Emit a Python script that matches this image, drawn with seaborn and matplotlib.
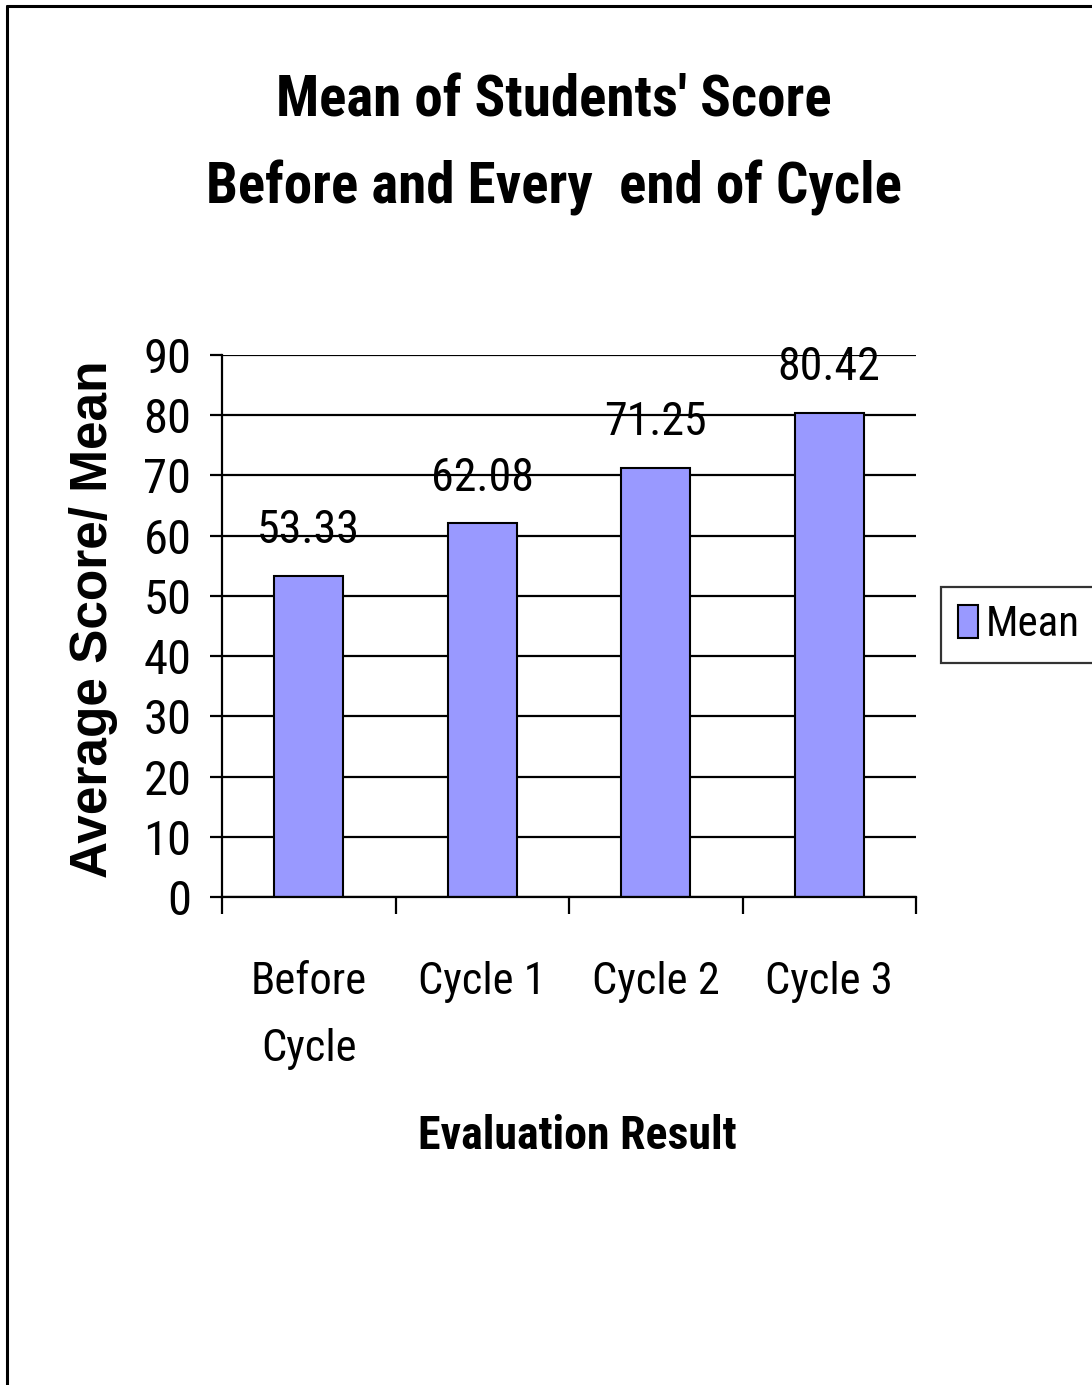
import pandas as pd
import matplotlib.pyplot as plt
import seaborn as sns
from matplotlib.lines import Line2D

# --- Data ---
categories = ['Before\nCycle', 'Cycle 1', 'Cycle 2', 'Cycle 3']
mean_scores = [53.33, 62.08, 71.25, 80.42]
y_ticks = [0, 10, 20, 30, 40, 50, 60, 70, 80, 90]

df = pd.DataFrame({'stage': categories, 'score': mean_scores})

# --- Style ---
sns.set_style('white')
narrow = ['Roboto Condensed', 'Liberation Sans Narrow', 'DejaVu Sans Condensed', 'Liberation Sans']
plt.rcParams['font.family'] = narrow
for key in ['text.color', 'axes.labelcolor', 'xtick.color', 'ytick.color']:
    plt.rcParams[key] = 'black'

fig = plt.figure(figsize=(10.92, 13.85), dpi=100)
ax = fig.add_axes([222 / 1092, 1 - 897 / 1385, 694 / 1092, 542 / 1385])

sns.barplot(data=df, x='stage', y='score', color='#9999FF', edgecolor='black',
            linewidth=1.5, width=0.4, saturation=1, label='Mean', ax=ax)

# value labels above the bars
ax.bar_label(ax.containers[0], fmt='%.2f', padding=17, fontsize=33)

# y axis: black gridlines, outward ticks
ax.set_ylim(0, 90)
ax.set_yticks(y_ticks)
ax.yaxis.grid(True, color='black', linewidth=1.6)
ax.set_axisbelow(True)
ax.tick_params(axis='y', direction='out', length=9, width=1.6, color='black',
               labelsize=35, pad=13, left=True)

# x axis: ticks between categories
ax.set_xlim(-0.5, 3.5)
ax.set_xticks([-0.5, 0.5, 1.5, 2.5, 3.5], minor=True)
ax.tick_params(axis='x', which='minor', direction='out', length=12, width=1.6,
               color='black', bottom=True)
ax.tick_params(axis='x', which='major', length=0, labelsize=32, pad=46)
for lbl in ax.get_xticklabels():
    lbl.set_linespacing(1.75)

for side in ['top', 'right']:
    ax.spines[side].set_visible(False)
for side in ['left', 'bottom']:
    ax.spines[side].set_color('black')
    ax.spines[side].set_linewidth(1.6)

# axis labels
ax.set_ylabel('Average Score/ Mean', fontsize=37, fontweight='bold',
              family=['Liberation Sans', 'DejaVu Sans'])
ax.yaxis.set_label_coords(-0.15, 0.513)
ax.set_xlabel('Evaluation Result', fontsize=33, fontweight='bold')
ax.xaxis.set_label_coords(0.5115, -0.40)

# title
fig.text(0.507, 1 - 145 / 1385, "Mean of Students' Score\nBefore and Every  end of Cycle",
         ha='center', va='center', fontsize=41, fontweight='bold', linespacing=1.72)

# legend box on the right
leg = ax.legend(loc='center left', bbox_to_anchor=(941 / 1092, 1 - 625 / 1385),
                bbox_transform=fig.transFigure, borderaxespad=0, fancybox=False,
                frameon=True, fontsize=31, handlelength=0.45, handleheight=0.8,
                handletextpad=0.2, borderpad=0.4)
leg.get_frame().set_edgecolor('black')
leg.get_frame().set_linewidth(1.6)

# outer frame (left and top edges are visible)
fig.add_artist(Line2D([7 / 1092, 7 / 1092], [0, 1 - 6 / 1385],
                      transform=fig.transFigure, color='black', linewidth=2.2))
fig.add_artist(Line2D([7 / 1092, 1], [1 - 6 / 1385, 1 - 6 / 1385],
                      transform=fig.transFigure, color='black', linewidth=2.2))

fig.savefig('out.png', dpi=100)
